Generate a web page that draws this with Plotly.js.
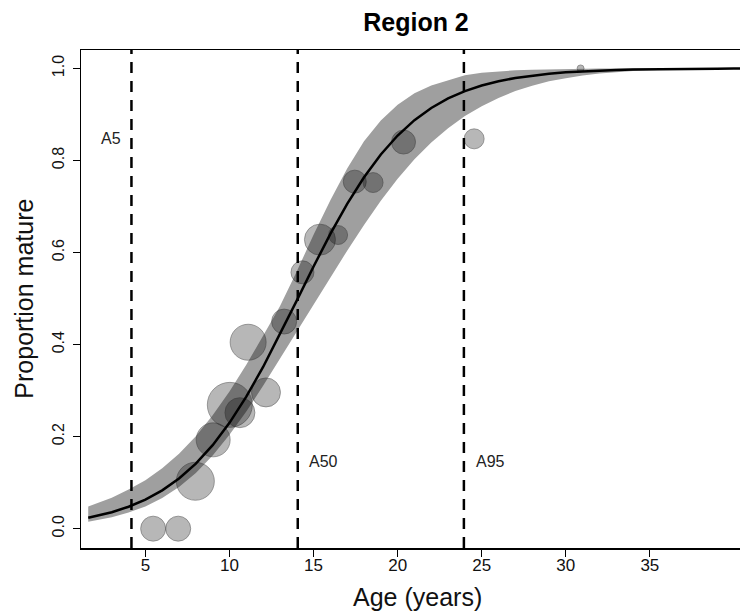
<!DOCTYPE html>
<html>
<head>
<meta charset="utf-8">
<script src="https://cdn.plot.ly/plotly-3.0.1.min.js"></script>
<style>html,body{margin:0;padding:0;background:#fff;}#chart{width:740px;height:614px;}</style>
</head>
<body>
<div id="chart"></div>
<script>
// ---- data ----
var ageObs = [5.46, 6.95, 7.97, 9.03, 10.02, 10.62, 11.11, 12.17, 13.25, 14.34, 15.38, 16.46, 17.45, 18.54, 20.35, 24.55, 30.88];
var propObs = [0.0, 0.0, 0.103, 0.193, 0.269, 0.252, 0.405, 0.296, 0.450, 0.557, 0.628, 0.638, 0.754, 0.752, 0.84, 0.847, 1.0];
var sampleWeight = [25, 25, 38, 34, 45, 30, 36, 29, 25, 23, 31, 19, 23, 20, 24, 20, 7];

var ageFit = [1.6,2,3,4,5,6,7,8,9,10,11,12,13,14,15,16,17,18,19,20,21,22,23,24,25,26,27,28,29,30,31,32,33,34,35,36,37,38,39,40,41];
var propFit = [0.0239,0.0269,0.0358,0.0477,0.0631,0.0832,0.1089,0.1413,0.1815,0.2299,0.2868,0.3513,0.4218,0.4955,0.5695,0.6405,0.7058,0.7636,0.8131,0.8542,0.8876,0.9141,0.9347,0.9507,0.9629,0.9722,0.9792,0.9845,0.9884,0.9914,0.9936,0.9952,0.9965,0.9974,0.9981,0.9986,0.9989,0.9992,0.9994,0.9996,0.9997];
var lowerCI = [0.015,0.0175,0.025,0.0352,0.0484,0.0664,0.0906,0.121,0.1588,0.204,0.2545,0.3104,0.3694,0.4283,0.4876,0.5466,0.604,0.660,0.7127,0.7605,0.8028,0.839,0.870,0.8966,0.918,0.9358,0.951,0.9623,0.9719,0.9788,0.9847,0.9889,0.992,0.9942,0.996,0.9975,0.9985,0.999,0.9993,0.9995,0.9997];
var upperCI = [0.048,0.053,0.067,0.085,0.105,0.1315,0.163,0.201,0.2466,0.298,0.356,0.419,0.483,0.559,0.6385,0.7134,0.7825,0.8415,0.887,0.921,0.946,0.963,0.9745,0.985,0.9904,0.994,0.996,0.997,0.998,0.9988,0.9994,0.9997,0.9998,0.9999,0.9999,1.0,1.0,1.0,1.0,1.0,1.0];

var refNames = ["A5", "A50", "A95"];
var refAges = [4.17, 14.06, 23.94];

var xTicks = [5, 10, 15, 20, 25, 30, 35];
var yTicks = [0.0, 0.2, 0.4, 0.6, 0.8, 1.0];

// ---- traces ----
var traces = [
  {x: ageFit, y: lowerCI, type: 'scatter', mode: 'lines', line: {width: 0, color: 'rgba(0,0,0,0)'}, hoverinfo: 'skip', showlegend: false},
  {x: ageFit, y: upperCI, type: 'scatter', mode: 'lines', fill: 'tonexty', fillcolor: '#9f9f9f', line: {width: 0, color: 'rgba(0,0,0,0)'}, hoverinfo: 'skip', showlegend: false},
  {x: ageObs, y: propObs, type: 'scatter', mode: 'markers', cliponaxis: false,
   marker: {size: sampleWeight, sizemode: 'diameter', color: 'rgba(0,0,0,0.4)', line: {color: 'rgba(40,40,40,0.6)', width: 1}}, showlegend: false},
  {x: ageFit, y: propFit, type: 'scatter', mode: 'lines', line: {color: '#000', width: 2.5}, showlegend: false}
];

var shapes = refAges.map(function (a) {
  return {type: 'line', xref: 'x', yref: 'paper', x0: a, x1: a, y0: 0, y1: 1, layer: 'above',
          line: {color: '#000', width: 2.5, dash: '11px,8px'}};
});

var fontFam = '"Liberation Sans", Arial, sans-serif';
var annotations = [
  {text: refNames[0], x: refAges[0], y: 0.848, xref: 'x', yref: 'y', xanchor: 'right', yanchor: 'middle', xshift: -8, showarrow: false, font: {family: fontFam, size: 16, color: '#222'}},
  {text: refNames[1], x: refAges[1], y: 0.146, xref: 'x', yref: 'y', xanchor: 'left', yanchor: 'middle', xshift: 9, showarrow: false, font: {family: fontFam, size: 16, color: '#222'}},
  {text: refNames[2], x: refAges[2], y: 0.146, xref: 'x', yref: 'y', xanchor: 'left', yanchor: 'middle', xshift: 10, showarrow: false, font: {family: fontFam, size: 16, color: '#222'}},
  {text: 'Age (years)', xref: 'paper', yref: 'paper', x: 0.511, y: -0.098, xanchor: 'center', yanchor: 'middle', showarrow: false, font: {family: fontFam, size: 25, color: '#111'}},
  {text: 'Proportion mature', xref: 'paper', yref: 'paper', x: -0.087, y: 0.5, xanchor: 'center', yanchor: 'middle', textangle: -90, showarrow: false, font: {family: fontFam, size: 25, color: '#111'}}
];

var layout = {
  width: 740, height: 614,
  margin: {l: 81, r: 0, t: 50, b: 66, pad: 0},
  paper_bgcolor: '#fff', plot_bgcolor: '#fff',
  title: {text: '<b>Region 2</b>', x: 416 / 740, xref: 'container', xanchor: 'center', y: 1 - 22 / 614, yref: 'container', yanchor: 'middle',
          font: {family: fontFam, size: 25, color: '#000'}},
  xaxis: {range: [1.17, 40.36], tickvals: xTicks, ticktext: xTicks.map(String), ticks: 'outside', ticklen: 7, tickwidth: 1, tickcolor: '#000',
          ticklabelstandoff: -6,
          showline: true, linecolor: '#000', linewidth: 1.5, mirror: true, showgrid: false, zeroline: false,
          tickfont: {family: fontFam, size: 17, color: '#111'}},
  yaxis: {range: [-0.042, 1.04], tickvals: yTicks, ticktext: yTicks.map(function (v) { return v.toFixed(1); }), ticks: 'outside', ticklen: 7, tickwidth: 1, tickcolor: '#000',
          ticklabelstandoff: 2,
          tickangle: -90, showline: true, linecolor: '#000', linewidth: 1.5, mirror: false, showgrid: false, zeroline: false,
          tickfont: {family: fontFam, size: 16, color: '#111'}},
  shapes: shapes,
  annotations: annotations,
  showlegend: false
};

Plotly.newPlot('chart', traces, layout, {staticPlot: true, displayModeBar: false});
</script>
</body>
</html>
